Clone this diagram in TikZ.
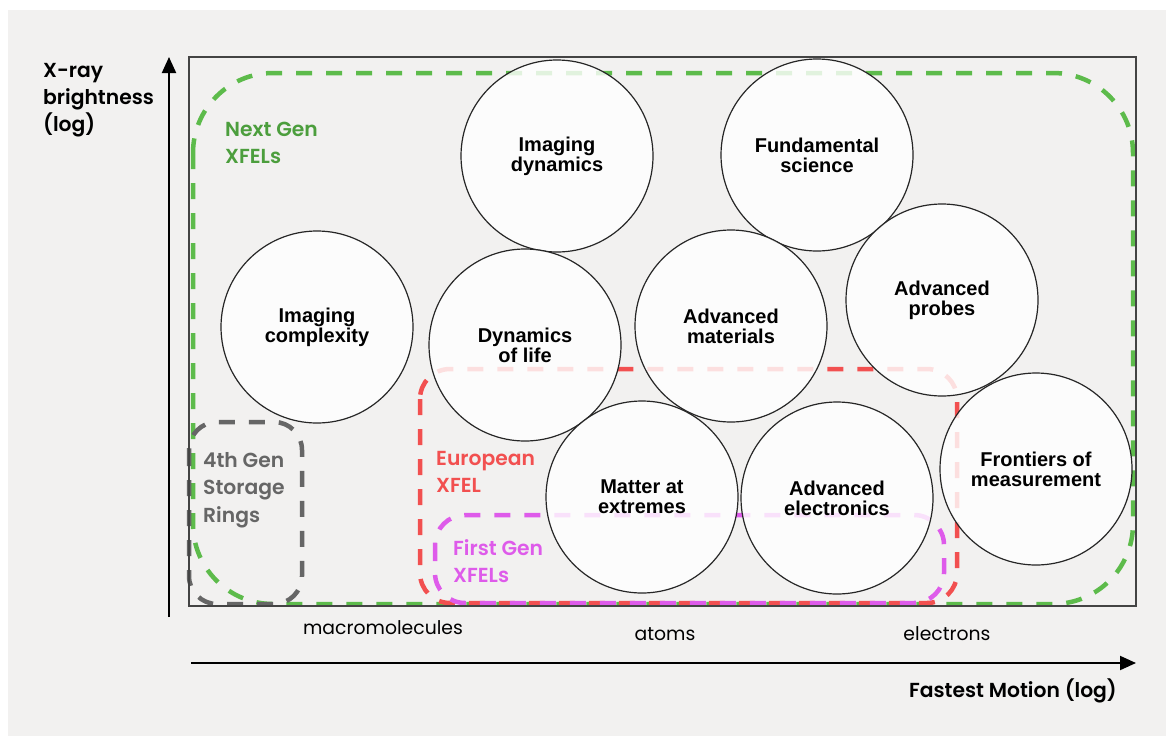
\documentclass[tikz,border=0pt]{standalone}
\usepackage{fontspec}
\setmainfont{Poppins}[BoldFont={Poppins SemiBold}]
\newfontfamily\circfont{Liberation Sans}
\usetikzlibrary{arrows.meta}
\definecolor{bgc}{HTML}{F2F1F0}
\definecolor{zgreen}{HTML}{5DBB4B}
\definecolor{zgreentxt}{HTML}{4C9E3D}
\definecolor{zred}{HTML}{F25050}
\definecolor{zmag}{HTML}{DE5BEA}
\definecolor{zgrey}{HTML}{666666}
\definecolor{boxc}{HTML}{444444}
\tikzset{
  zone/.style={line width=4.5pt, dash pattern=on 16pt off 14pt},
  topic/.style={circle, draw=black!85, line width=1.2pt, fill=white, fill opacity=0.82, text opacity=1,
    minimum size=192pt, inner sep=0pt, align=center,
    font=\circfont\bfseries\fontsize{20}{20}\selectfont},
  zonelabel/.style={anchor=west, align=left, inner sep=0pt, font=\bfseries\fontsize{20.3}{27.5}\selectfont},
  ticklabel/.style={anchor=base, inner sep=0pt, font=\fontsize{18.8}{20}\selectfont},
  axislabel/.style={inner sep=0pt, align=left, font=\bfseries\fontsize{20.3}{27}\selectfont},
  axisline/.style={line width=2pt, -{Triangle[length=16pt,width=14pt]}}
}
\begin{document}
\begin{tikzpicture}[x=1pt,y=-1pt]
\useasboundingbox (0,0) rectangle (1166,736);
\fill[white] (0,0) rectangle (1166,736);
\fill[bgc] (8,10) rectangle (1166,736);

% zones
\draw[zone, zgreen, rounded corners=80pt] (193,73) rectangle (1133,604);
\draw[zone, zgrey, rounded corners=28pt] (189,422) rectangle (302,604);
\draw[zone, zred, rounded corners=30pt] (420,369) rectangle (957,603);
\draw[zone, zmag, rounded corners=30pt] (435,515) rectangle (944,603);

% plot box
\draw[boxc, line width=1.5pt] (189,57) rectangle (1136,606);

% axes
\coordinate (ybase) at (169,617);
\coordinate (ytip) at (169,57);
\coordinate (xbase) at (191,663);
\coordinate (xtip) at (1136,663);
\draw[axisline] (ybase) -- (ytip);
\draw[axisline] (xbase) -- (xtip);

% topics
\node[topic] (imgdyn) at (557,156) {Imaging\\dynamics};
\node[topic] (fund) at (817,155) {Fundamental\\science};
\node[topic] (imgcx) at (317,327) {Imaging\\complexity};
\node[topic] (life) at (525,345) {Dynamics\\of life};
\node[topic] (mat) at (731,326) {Advanced\\materials};
\node[topic] (probes) at (942,300) {Advanced\\probes};
\node[topic] (extreme) at (642,497) {Matter at\\extremes};
\node[topic] (elec) at (837,498) {Advanced\\electronics};
\node[topic] (front) at (1036,469) {Frontiers of\\measurement};

% zone labels
\node[zonelabel, text=zgreentxt] (lgreen) at (225,143) {Next Gen\\XFELs};
\node[zonelabel, text=zgrey] (lgrey) at (203,490) {4th Gen\\Storage\\Rings};
\node[zonelabel, text=zred] (lred) at (436,472) {European\\XFEL};
\node[zonelabel, text=zmag] (lmag) at (453,561) {First Gen\\XFELs};

% axis labels
\node[axislabel, anchor=west] (ylab) at (43,100) {X-ray\\brightness\\(log)};
\node[axislabel, anchor=base east] (xlab) at (1117,697) {Fastest Motion (log)};

% ticks
\node[ticklabel] (tmacro) at (383,634) {macromolecules};
\node[ticklabel] (tatoms) at (665,640) {atoms};
\node[ticklabel] (telec) at (947,640) {electrons};
\end{tikzpicture}
\end{document}
